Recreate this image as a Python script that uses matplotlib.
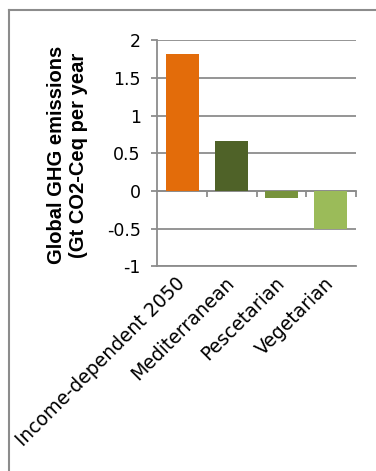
import numpy as np
import matplotlib
matplotlib.use("Agg")
import matplotlib.pyplot as plt
from matplotlib.lines import Line2D

# diet scenarios and their change in emissions
diets = ["Income-dependent 2050", "Mediterranean", "Pescetarian", "Vegetarian"]
emissions = [1.82, 0.66, -0.10, -0.51]
bar_colors = ["#E36C0A", "#4F6228", "#77933C", "#9BBB59"]
ytick_vals = [-1, -0.5, 0, 0.5, 1, 1.5, 2]
ytick_labels = ["-1", "-0.5", "0", "0.5", "1", "1.5", "2"]

grey = "#8c8c8c"
W, H = 376, 471

fig = plt.figure(figsize=(W / 100, H / 100), dpi=100)
ax = fig.add_axes([157.3 / W, 1 - 266.3 / H, (355.7 - 157.3) / W, (266.3 - 40.2) / H])

x = np.arange(len(diets))
ax.bar(x, emissions, width=0.665, color=bar_colors, zorder=2)

ax.set_xlim(-0.5, len(diets) - 0.5)
ax.set_ylim(-1, 2)

ax.set_yticks(ytick_vals)
ax.set_yticklabels(ytick_labels, fontfamily="DejaVu Sans", fontsize=12.5)
ax.tick_params(axis="y", direction="out", length=4, width=1.3, color=grey, pad=8)
ax.yaxis.grid(True, color=grey, lw=1.3)
ax.set_axisbelow(True)

ax.set_xticks(x)
ax.set_xticklabels(diets, rotation=45, ha="right", va="center",
                   rotation_mode="anchor", fontfamily="DejaVu Sans", fontsize=13.5)
ax.tick_params(axis="x", length=0, pad=10)

for side in ["top", "right"]:
    ax.spines[side].set_visible(False)
for side in ["left", "bottom"]:
    ax.spines[side].set_color(grey)
    ax.spines[side].set_linewidth(1.3)

# category axis line through zero, with boundary ticks
zero_frac = (0 - ax.get_ylim()[0]) / (ax.get_ylim()[1] - ax.get_ylim()[0])
sec = ax.secondary_xaxis(zero_frac)
sec.set_xticks(x + 0.5)
sec.tick_params(direction="out", length=4.5, width=1.3, color=grey, labelbottom=False, labeltop=False)
sec.spines["bottom"].set_color(grey)
sec.spines["bottom"].set_linewidth(1.3)

fig.text(68 / W, 1 - 155 / H, "Global GHG emissions\n(Gt CO2-Ceq per year",
         rotation=90, ha="center", va="center", fontfamily="Liberation Sans",
         fontweight="bold", fontsize=14.5, linespacing=1.2)

# frame edges
fig.add_artist(Line2D([8.5 / W, 1], [1 - 9.5 / H] * 2, transform=fig.transFigure, color=grey, lw=1.5))
fig.add_artist(Line2D([8.5 / W] * 2, [0, 1 - 9.5 / H], transform=fig.transFigure, color=grey, lw=1.5))

fig.savefig("out.png", dpi=100)
